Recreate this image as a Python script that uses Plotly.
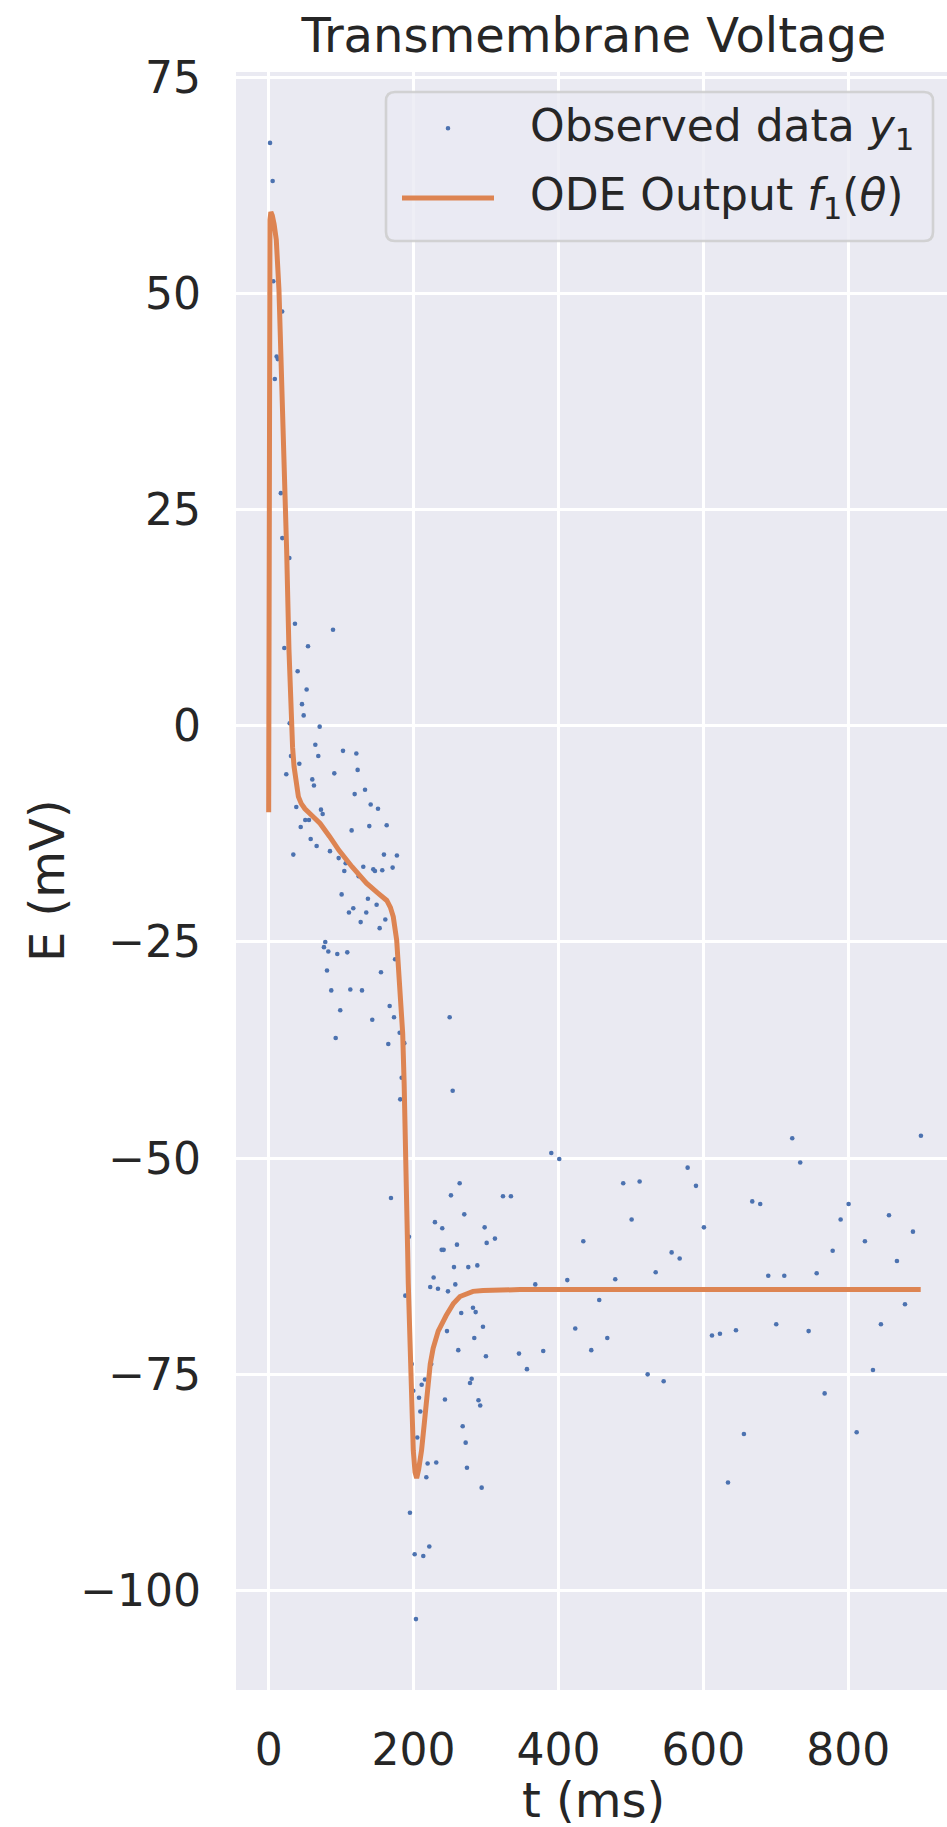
import plotly.graph_objects as go

# Observed membrane voltage samples: time (ms) and voltage (mV)
obs_t = [
    1.9, 5.5, 6.4, 8.5, 11.0, 12.6, 16.8, 18.6, 18.8, 21.6,
    24.3, 28.5, 29.0, 30.8, 34.0, 36.3, 38.1, 40.0, 42.3, 44.2,
    46.0, 48.3, 50.5, 52.4, 54.3, 55.6, 58.0, 60.2, 62.5, 64.4,
    66.2, 68.5, 70.4, 72.2, 74.5, 76.3, 78.1, 80.5, 82.3, 84.6,
    86.4, 88.8, 90.6, 92.5, 94.7, 96.6, 98.8, 100.7, 102.6, 104.4,
    106.3, 108.5, 110.8, 112.7, 114.5, 116.8, 118.7, 121.0, 122.8, 124.2,
    127.0, 128.8, 130.6, 133.0, 134.7, 137.0, 138.9, 140.8, 143.0, 144.4,
    146.7, 149.0, 150.9, 153.2, 155.0, 156.8, 159.1, 161.0, 162.9, 165.1,
    167.0, 168.8, 171.1, 173.0, 174.5, 177.0, 180.8, 181.6, 183.6, 187.2,
    188.6, 193.6, 195.0, 197.4, 199.6, 201.5, 203.3, 205.1, 207.5, 209.3,
    211.2, 213.4, 215.7, 217.6, 219.4, 221.7, 223.0, 224.4, 227.7, 229.5,
    231.3, 233.7, 238.8, 239.6, 241.5, 243.3, 246.1, 247.5, 249.8, 251.6,
    254.0, 255.8, 257.6, 259.9, 261.7, 263.6, 265.8, 267.8, 270.0, 271.9,
    273.7, 275.5, 277.9, 280.2, 282.0, 283.8, 285.7, 288.0, 289.6, 292.0,
    294.0, 295.8, 298.1, 299.9, 300.9, 312.3, 323.4, 334.4, 345.5, 356.5,
    368.0, 379.0, 390.1, 401.1, 412.2, 423.2, 434.3, 445.3, 456.3, 467.4,
    478.4, 489.4, 501.0, 512.0, 523.1, 534.2, 545.2, 556.2, 567.3, 578.3,
    589.8, 600.8, 611.9, 622.9, 634.0, 645.0, 656.0, 667.5, 678.5, 689.6,
    700.6, 711.7, 722.7, 733.7, 745.3, 756.4, 767.4, 778.5, 789.5, 800.5,
    811.6, 823.0, 834.1, 845.1, 856.2, 867.2, 878.3, 889.3, 900.3,
]
obs_v = [
    67.4, 63.0, 51.4, 40.1, 42.7, 42.4, 26.9, 47.9, 21.7, 9.0,
    -5.6, 19.4, 0.3, -3.5, -14.9, 11.8, -9.4, 6.3, -4.4, -11.7,
    2.5, 1.2, -10.9, 4.2, 9.2, -10.9, -13.1, -6.2, -6.9, -2.2,
    -13.9, -3.5, -0.1, -9.7, -10.2, -25.6, -25.0, -28.3, -26.1, -14.5,
    -30.6, 11.1, -5.5, -36.1, -26.4, -15.3, -32.9, -19.5, -2.9, -16.8,
    -15.9, -26.2, -21.6, -30.5, -12.1, -21.1, -7.9, -3.2, -5.1, -17.4,
    -22.7, -30.6, -16.3, -7.4, -21.6, -20.0, -11.6, -9.1, -34.0, -16.6,
    -16.8, -20.7, -9.6, -23.4, -28.5, -16.7, -14.9, -22.4, -11.5, -36.8,
    -32.4, -54.6, -16.4, -33.7, -27.0, -15.0, -35.5, -43.2, -40.7, -36.7,
    -65.9, -59.1, -91.0, -73.8, -76.9, -95.8, -103.3, -82.3, -77.7, -79.3,
    -76.2, -96.0, -75.6, -86.9, -85.3, -94.9, -64.9, -73.8, -63.8, -57.4,
    -85.2, -65.1, -60.6, -58.1, -60.6, -77.9, -70.0, -65.4, -33.7, -54.3,
    -42.2, -62.6, -64.6, -60.0, -72.2, -52.9, -67.9, -81.0, -56.5, -82.9,
    -85.8, -62.6, -76.0, -75.5, -67.3, -70.8, -67.8, -62.4, -78.0, -78.6,
    -88.1, -69.5, -58.0, -72.9, -59.8, -59.3, -54.4, -54.4, -72.6, -74.4,
    -64.6, -72.3, -49.4, -50.1, -64.1, -69.7, -59.6, -72.2, -66.4, -70.8,
    -64.0, -52.9, -57.1, -52.7, -75.0, -63.2, -75.8, -60.9, -61.6, -51.1,
    -53.2, -58.0, -70.5, -70.3, -87.5, -69.9, -81.9, -55.0, -55.3, -63.6,
    -69.2, -63.6, -47.7, -50.5, -70.0, -63.3, -77.2, -60.7, -57.1, -55.3,
    -81.7, -59.6, -74.5, -69.2, -56.6, -61.9, -66.9, -58.5, -47.4,
]

# ODE model output f1(theta)
ode_t = [
    0.0, 0.4, 0.7, 1.2, 1.8, 3.0, 5.0, 7.5, 10.5, 14.2,
    16.5, 18.8, 20.7, 22.1, 24.8, 28.0, 30.8, 33.0, 35.0, 38.0,
    41.0, 45.0, 50.0, 60.0, 71.0, 84.0, 97.0, 115.0, 135.0, 150.0,
    163.0, 168.0, 172.0, 176.7, 181.0, 185.0, 187.0, 189.5, 191.8, 192.7,
    196.0, 199.6, 202.0, 204.3, 207.0, 211.0, 215.0, 219.0, 223.0, 227.0,
    234.0, 245.0, 255.0, 264.0, 282.0, 296.0, 347.0, 900.0,
]
ode_v = [
    -10.0, 10.0, 40.0, 55.0, 58.5, 59.4, 59.0, 58.0, 56.2, 50.4,
    44.6, 38.8, 33.0, 28.0, 20.3, 8.8, 1.0, -2.5, -4.7, -6.8,
    -8.2, -9.0, -9.6, -10.4, -11.3, -12.8, -14.4, -16.3, -18.2, -19.3,
    -20.2, -21.0, -22.1, -24.8, -29.8, -35.6, -41.4, -49.0, -60.6, -64.5,
    -76.0, -83.8, -86.3, -87.0, -86.0, -83.8, -80.5, -76.5, -73.8, -72.0,
    -70.0, -68.2, -66.8, -66.0, -65.4, -65.3, -65.2, -65.2,
]

x_ticks = [0, 200, 400, 600, 800]
y_ticks = [-100, -75, -50, -25, 0, 25, 50, 75]

TITLE = "Transmembrane Voltage"
X_LABEL = "t (ms)"
Y_LABEL = "E (mV)"
OBS_NAME = "Observed data <i>y</i><sub>1</sub>"
ODE_NAME = "ODE Output <i>f</i><sub>1</sub>(<i>θ</i>)"

# Page and plot-area geometry (pixels)
W, H = 947, 1827
L, R, T, B = 236, 0, 72, 137
PW, PH = W - L - R, H - T - B

FONT = "DejaVu Sans"
INK = "#262626"
BLUE = "#4C72B0"
ORANGE = "#DD8452"
FACE = "#EAEAF2"


def px(x):
    return (x - L) / PW


def py(y):
    return (H - B - y) / PH


def fmt(v):
    return str(v).replace("-", "\u2212")


fig = go.Figure()
fig.add_trace(go.Scatter(
    x=obs_t, y=obs_v, mode="markers", name=OBS_NAME,
    marker=dict(color=BLUE, size=4.6, line=dict(width=0)),
    showlegend=False,
))
fig.add_trace(go.Scatter(
    x=ode_t, y=ode_v, mode="lines", name=ODE_NAME,
    line=dict(color=ORANGE, width=5),
    showlegend=False,
))

# Legend frame (rounded rectangle) drawn in paper coordinates
x0, x1, y0, y1, r = 386, 933, 92, 241, 9
rx, ry = r / PW, r / PH
a0, a1, b0, b1 = px(x0), px(x1), py(y1), py(y0)
frame = (
    f"M{a0 + rx},{b0} L{a1 - rx},{b0} Q{a1},{b0} {a1},{b0 + ry} "
    f"L{a1},{b1 - ry} Q{a1},{b1} {a1 - rx},{b1} "
    f"L{a0 + rx},{b1} Q{a0},{b1} {a0},{b1 - ry} "
    f"L{a0},{b0 + ry} Q{a0},{b0} {a0 + rx},{b0} Z"
)
shapes = [
    dict(type="path", path=frame, xref="paper", yref="paper", layer="above",
         fillcolor="rgba(234,234,242,0.8)",
         line=dict(color="rgba(204,204,204,0.85)", width=2.6)),
    dict(type="line", xref="paper", yref="paper", layer="above",
         x0=px(402), x1=px(494), y0=py(198), y1=py(198),
         line=dict(color=ORANGE, width=5)),
    dict(type="circle", xref="paper", yref="paper", layer="above",
         x0=px(448 - 2.3), x1=px(448 + 2.3), y0=py(128.3 + 2.3), y1=py(128.3 - 2.3),
         fillcolor=BLUE, line=dict(width=0)),
]

annotations = [
    dict(text=OBS_NAME, x=px(528), y=py(128), xref="paper", yref="paper",
         xanchor="left", yanchor="middle", showarrow=False,
         font=dict(family=FONT, size=44, color=INK)),
    dict(text=ODE_NAME, x=px(528), y=py(197), xref="paper", yref="paper",
         xanchor="left", yanchor="middle", showarrow=False,
         font=dict(family=FONT, size=44, color=INK)),
    dict(text=X_LABEL, x=px(593), y=py(1800), xref="paper", yref="paper",
         xanchor="center", yanchor="middle", showarrow=False,
         font=dict(family=FONT, size=48, color=INK)),
    dict(text=Y_LABEL, x=px(47), y=py(881), xref="paper", yref="paper",
         xanchor="center", yanchor="middle", showarrow=False, textangle=-90,
         font=dict(family=FONT, size=48, color=INK)),
]

fig.update_layout(
    width=W, height=H,
    margin=dict(l=L, r=R, t=T, b=B, pad=0),
    paper_bgcolor="white", plot_bgcolor=FACE,
    font=dict(family=FONT, size=44, color=INK),
    title=dict(text=TITLE, x=594 / W, xref="container", xanchor="center",
               y=1 - 35 / H, yref="container", yanchor="middle",
               font=dict(family=FONT, size=48, color=INK)),
    shapes=shapes, annotations=annotations,
    showlegend=False,
)
fig.update_xaxes(
    range=[-45.1, 936.3], tickvals=x_ticks, ticktext=[fmt(v) for v in x_ticks],
    showgrid=True, gridcolor="white", gridwidth=3.3, zeroline=False,
    showline=False, ticks="", ticklabelstandoff=30,
    tickfont=dict(family=FONT, size=44, color=INK),
)
fig.update_yaxes(
    range=[-111.5, 75.6], tickvals=y_ticks, ticktext=[fmt(v) for v in y_ticks],
    showgrid=True, gridcolor="white", gridwidth=3.3, zeroline=False,
    showline=False, ticks="", ticklabelstandoff=34,
    tickfont=dict(family=FONT, size=44, color=INK),
)

fig.write_html("out.html")
